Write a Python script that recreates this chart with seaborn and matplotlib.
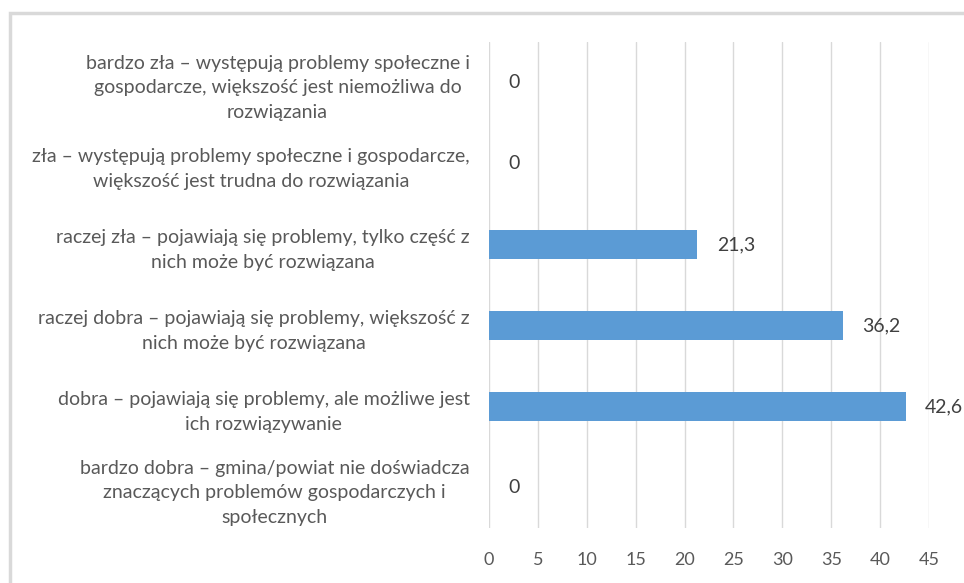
import matplotlib
matplotlib.use("Agg")
import matplotlib.pyplot as plt
import seaborn as sns
import pandas as pd
from matplotlib.patches import Rectangle

categories = [
    "bardzo zła – występują problemy społeczne i\ngospodarcze, większość jest niemożliwa do\nrozwiązania",
    "zła – występują problemy społeczne i gospodarcze,\nwiększość jest trudna do rozwiązania",
    "raczej zła – pojawiają się problemy, tylko część z\nnich może być rozwiązana",
    "raczej dobra – pojawiają się problemy, większość z\nnich może być rozwiązana",
    "dobra – pojawiają się problemy, ale możliwe jest\nich rozwiązywanie",
    "bardzo dobra – gmina/powiat nie doświadcza\nznaczących problemów gospodarczych i\nspołecznych",
]
values = [0, 0, 21.3, 36.2, 42.6, 0]
x_ticks = [0, 5, 10, 15, 20, 25, 30, 35, 40, 45]

sns.set_theme(style="white")
plt.rcParams["font.family"] = ["Lato", "DejaVu Sans"]

df = pd.DataFrame({"kategoria": categories, "wartosc": values})

fig = plt.figure(figsize=(9.64, 5.83), dpi=100)
ax = fig.add_axes([489 / 964, 1 - 528 / 583, 440 / 964, 486 / 583])

sns.barplot(data=df, y="kategoria", x="wartosc", orient="h", color="#5B9BD5",
            width=0.36, saturation=1, ax=ax, order=categories, linewidth=0)

ax.set_xlim(0, 45)
ax.set_xticks(x_ticks)
ax.set_xticklabels([str(t) for t in x_ticks])
ax.set_xlabel("")
ax.set_ylabel("")
ax.grid(axis="x", color="#D9D9D9", linewidth=1)
ax.set_axisbelow(True)
for s in ax.spines.values():
    s.set_visible(False)
ax.tick_params(axis="x", length=0, pad=17, labelsize=13, labelcolor="#595959")
ax.tick_params(axis="y", length=0, pad=14, labelsize=14, labelcolor="#595959")
for lab in ax.get_yticklabels():
    lab.set_multialignment("center")
    lab.set_linespacing(1.55)

labels = [f"{v:g}".replace(".", ",") for v in values]
ax.bar_label(ax.containers[0], labels=labels, padding=14, fontsize=14, color="#404040")

fig.patches.append(Rectangle((10, -10), 1000, 583 - 13 + 10, transform=None,
                             fill=False, edgecolor="#D9D9D9", linewidth=2.5,
                             figure=fig))

fig.savefig("out.png", dpi=100)
